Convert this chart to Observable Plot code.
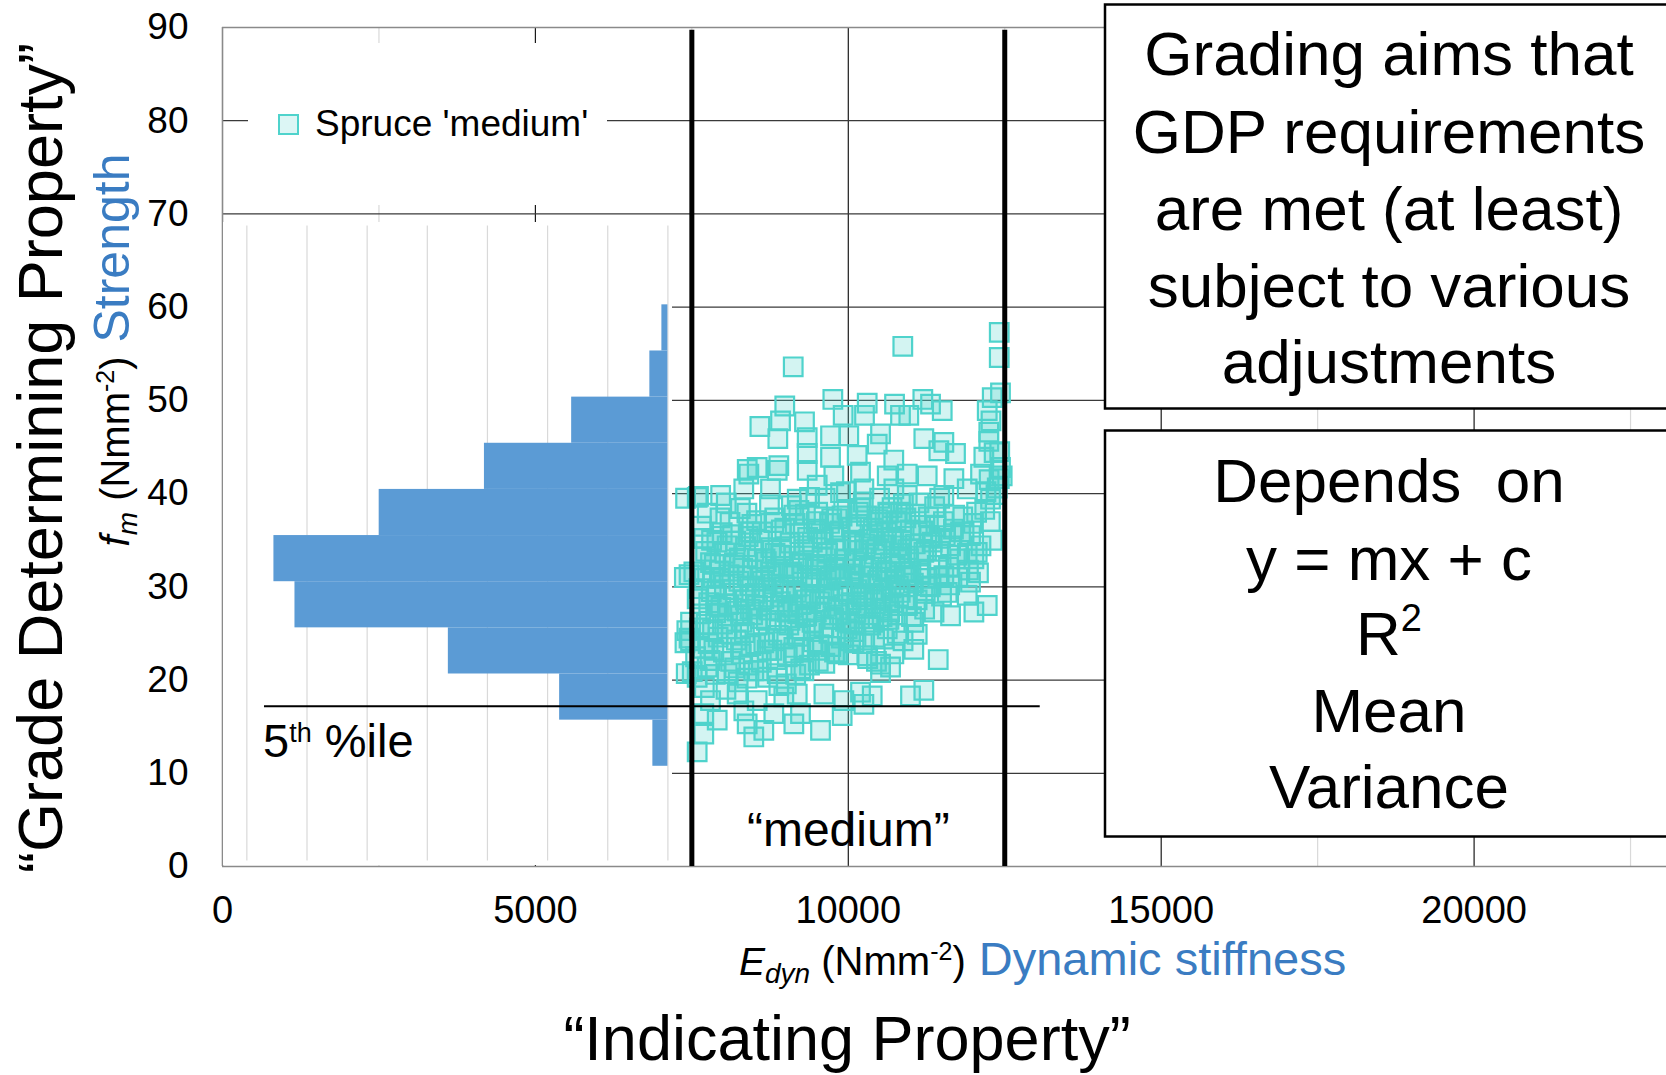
<!DOCTYPE html>
<html><head><meta charset="utf-8">
<script src="https://cdn.jsdelivr.net/npm/d3@7"></script>
<script src="https://cdn.jsdelivr.net/npm/@observablehq/plot@0.6"></script>
<style>
html,body{margin:0;padding:0;background:#fff;}
#wrap{position:relative;width:1666px;height:1075px;overflow:hidden;}
#wrap svg{position:absolute;}
</style></head><body><div id="wrap"></div>
<script>
// ---------------- data ----------------
const yTicks = [0, 10, 20, 30, 40, 50, 60, 70, 80, 90];
const xTicks = [0, 5000, 10000, 15000, 20000];
const xMinorGrid = [2500, 7500, 12500, 17500, 22500];
const yGrid = [10, 20, 30, 40, 50, 60, 70, 80];
const gradeLimits = [7500, 12500];          // "medium" grade boundaries (Edyn)
const gradeLimitTop = 89.7;
const gradeLabel = [{text: "“medium”", x: 10000, y: 3.9}];
const fifthPercentile = [{value: 17.2, from: 671, to: 13067}];

// histogram of fm (bins) – counts
const binLow  = [10.75, 15.7, 20.65, 25.6, 30.55, 35.5, 40.45, 45.4, 50.35, 55.3];
const binHigh = [15.7, 20.65, 25.6, 30.55, 35.5, 40.45, 45.4, 50.35, 55.3, 60.25];
const binCount = [5, 36, 73, 124, 131, 96, 61, 32, 6, 2];
const histGrid = [0, 20, 40, 60, 80, 100, 120, 140];

// Spruce 'medium' : [Edyn, fm]
const spruceMedium = [
[9120,53.6],[10871,55.8],[12412,57.3],[12412,54.6],[12432,50.8],[12300,50.3],[9753,50.1],[8985,49.4],[10302,49.7],[10739,49.6],
[11191,50.1],[11314,49.6],[11501,48.9],[8587,47.2],[8917,47.8],[9300,47.7],[8874,45.9],[9918,48.4],[10259,48.4],[10515,46.4],
[10834,48.4],[10967,48.4],[11207,45.9],[11527,45.5],[11713,44.3],[12220,48.9],[12245,46.6],[12245,45.6],[10008,46.2],[9716,46.2],
[9343,46.0],[10462,45.3],[11447,44.6],[12166,43.9],[12432,42.8],[9343,44.3],[9716,43.9],[10142,44.1],[10727,43.6],[8544,42.8],
[8890,43.0],[8385,42.6],[12280,47.8],[12330,44.4],[12360,39.9],[12250,41.5],[12413,41.6],
[8411,42.1],[8864,42.5],[9343,42.5],[9769,41.9],[10195,42.3],[10622,41.9],[10942,42.1],[11261,41.9],[11687,41.6],[12113,42.1],
[12459,41.9],[7586,39.6],[7960,39.8],[8330,40.5],[8757,40.5],[9184,39.4],[9503,40.9],[9876,40.1],[10249,40.5],[10728,40.5],
[10942,39.8],[11527,39.8],[11900,40.5],[12273,39.4],
[7690,35.2],[8064,34.4],[8437,35.9],[8810,36.9],[9130,37.7],[9503,36.2],[9823,37.3],[10195,38.4],[10515,36.9],[10835,38.0],
[11154,36.6],[11474,35.2],[11634,34.4],[11953,35.5],[12060,33.7],[11793,35.9],[11207,33.7],[10835,34.4],[10462,34.1],[10089,34.8],
[9663,33.7],[9290,34.4],[8917,33.4],[8544,33.0],[8171,32.3],[7798,32.6],[7532,31.6],[7958,30.9],[8384,31.2],[8757,31.6],
[9130,31.2],[9503,31.9],[9876,31.2],[10249,32.3],[10622,31.6],[10942,31.2],[11261,30.9],[11527,31.2],[11953,30.5],[11421,32.3],
[11740,33.4],[12007,33.0],
[7585,28.7],[7479,26.2],[7905,28.0],[8277,26.9],[8650,28.7],[9023,27.3],[9396,28.7],[9769,26.6],[10142,28.0],[10408,26.2],
[10728,28.0],[11047,26.2],[11261,30.1],[11581,29.4],[11900,29.1],[12220,28.0],[11634,26.9],[12007,27.3],[8064,25.5],[8544,25.9],
[9236,25.5],[9982,25.5],[10622,25.5],
[7479,24.2],[7852,23.2],[8277,23.5],[8704,23.2],[9130,23.5],[9503,23.2],[9823,22.8],[10036,24.2],[10302,22.6],[10515,21.7],
[10728,22.8],[11047,23.3],[11437,22.2],[11101,24.9],[10515,20.8],[7585,20.3],[7745,21.4],[8064,20.7],[8490,21.0],[8864,20.7],
[9290,21.0],[9610,18.5],[9184,18.5],[8970,18.2],[8544,17.8],[8224,18.5],[7798,17.8],[7691,16.4],[7905,15.7],[8331,16.7],
[8384,15.3],[8490,13.9],[8650,14.6],[8810,16.4],[9130,15.3],[9236,16.4],[9556,14.6],[9902,16.2],[9929,17.8],[10249,17.4],
[10382,18.3],[10994,18.3],[11207,18.9],[7691,14.2],[7585,12.3],[10195,18.7],[10675,21.4],[7506,20.9],[7455,31.3],[7455,24.5],
[7606,39.7],[7400,39.5],[7380,31.0],[7420,25.3],[7390,24.0],[7410,20.7],
[7650,36.5],[7720,33.8],[7810,29.5],[7880,27.2],[7950,37.4],[8020,30.2],[8090,28.1],[8150,35.6],[8210,24.3],[8260,33.1],
[8320,29.0],[8380,37.9],[8430,27.6],[8470,31.8],[8520,23.9],[8580,35.0],[8630,30.6],[8690,26.4],[8740,38.8],[8790,28.9],
[8830,33.6],[8880,24.8],[8930,36.1],[8980,30.0],[9030,27.9],[9070,34.7],[9120,22.9],[9170,29.4],[9210,38.2],[9260,32.5],
[9310,26.8],[9350,35.3],[9400,30.9],[9440,24.1],[9490,37.0],[9540,28.4],[9580,33.2],[9630,39.5],[9680,29.8],[9720,23.6],
[9770,35.9],[9810,31.4],[9860,27.0],[9900,37.6],[9950,32.9],[10000,29.2],[10050,36.4],[10090,25.2],[10140,33.9],[10190,30.4],
[10240,39.1],[10280,27.7],[10330,35.1],[10380,31.1],[10420,24.6],[10470,37.2],[10520,33.0],[10560,29.6],[10610,35.8],[10660,27.3],
[10700,38.5],[10750,32.2],[10800,30.1],[10850,36.9],[10900,28.8],[10950,34.0],[11000,31.7],[11080,37.8],[11150,33.3],[11230,29.3],
[11300,35.4],[11380,38.6],[11450,33.8],[11520,37.0],[11600,32.1],[11680,36.2],[11750,31.0],[11830,37.5],[11900,33.6],[12000,36.8],
[12080,31.5],[12180,38.3],[12300,35.0],[12380,40.6],[12420,44.5],[7560,22.5],[7620,25.6],[7700,19.2],[7760,23.9],[7840,31.0],
[7900,34.8],[7990,26.0],[8050,39.0],[8120,22.0],[8180,32.6],[8240,19.8],[8300,26.2],[8360,34.3],[8410,21.6],[8460,36.7],
[8550,28.0],[8610,21.9],[8670,33.0],[8720,24.5],[8770,31.2],[8850,22.2],[8910,27.4],[8960,32.2],[9010,19.6],[9050,25.9],
[9100,31.6],[9150,36.8],[9190,27.1],[9240,21.2],[9290,34.0],[9330,28.6],[9380,39.6],[9420,26.2],[9470,32.2],[9520,22.0],
[9560,35.7],[9610,25.7],[9650,30.7],[9700,36.8],[9750,26.5],[9790,31.9],[9840,22.9],[9880,34.4],[9930,28.1],[9970,40.2],
[10020,26.1],[10070,31.9],[10120,27.3],[10160,38.0],[10210,28.9],[10260,34.6],[10310,22.3],[10350,30.3],[10400,36.3],[10450,28.6],
[10500,39.5],[10540,26.8],[10590,31.6],[10640,37.9],[10680,29.9],[10730,34.9],[10780,25.0],[10830,33.2],[10880,38.9],[10920,31.2],
[7610,29.8],[7640,27.1],[7655,33.2],[7680,23.4],[7700,30.9],[7730,26.0],[7745,37.9],[7770,28.3],[7790,22.1],[7815,35.0],
[7830,25.4],[7860,32.4],[7875,20.6],[7895,29.1],[7920,24.6],[7940,31.7],[7965,27.8],[7985,35.8],[8005,23.0],[8030,33.6],
[8045,19.0],[8070,26.9],[8095,31.3],[8110,36.9],[8135,24.9],[8160,29.7],[8185,21.3],[8200,34.9],[8225,27.4],[8250,30.6],
[8275,38.4],[8290,22.8],[8315,32.0],[8340,25.1],[8355,28.6],[8380,20.2],[8400,35.4],[8425,30.1],[8445,23.7],[8470,27.0],
[8490,33.8],[8515,29.3],[8535,37.1],[8560,21.0],[8585,31.0],[8600,26.6],[8625,35.9],[8650,24.0],[8665,29.9],[8690,32.7],
[8710,20.3],[8735,27.5],[8760,34.2],[8780,23.2],[8805,30.3],[8825,37.4],[8845,26.1],[8870,31.9],[8890,19.4],[8915,28.4],
[8935,33.9],[8960,24.4],[8985,36.3],[9000,29.6],[9025,22.5],[9045,31.5],[9070,26.4],[9090,38.7],[9115,27.8],[9135,33.3],
[9160,20.6],[9180,30.0],[9200,24.7],[9225,35.7],[9245,28.1],[9270,31.2],[9290,23.3],[9315,37.8],[9335,26.9],[9360,32.8],
[9380,21.6],[9400,29.0],[9425,34.8],[9445,25.5],[9470,30.5],[9490,27.3],[9510,38.0],[9535,23.8],[9555,32.4],[9580,29.2],
[9600,35.1],[9625,21.8],[9645,27.9],[9670,33.6],[9690,25.0],[9715,31.0],[9735,37.3],[9755,28.8],[9780,23.0],[9800,34.1],
[9825,27.6],[9845,30.9],[9870,36.0],[9890,24.5],[9910,29.5],[9935,33.0],[9955,26.3],[9980,38.3],[10000,22.7],[10025,31.4],
[10045,28.3],[10070,35.0],[10090,24.0],[10110,32.6],[10135,29.7],[10155,36.7],[10180,26.6],[10200,31.2],[10225,23.9],[10245,29.0],
[10270,34.0],[10290,37.6],[10315,27.0],[10335,32.1],[10360,25.9],[10380,35.6],[10405,29.3],[10425,33.5],[10450,22.0],[10470,30.7],
[10495,36.0],[10515,27.7],[10540,31.8],[10560,24.4],[10585,34.5],[10605,29.0],[10630,38.0],[10650,26.5],[10675,32.6],[10695,35.3],
[10720,28.3],[10740,30.8],[10765,37.1],[10785,27.0],[10810,33.6],[10830,29.4],[10855,35.0],[10875,24.2],[10900,31.6],[10920,37.4],
[10945,28.0],[10965,33.0],[10990,36.1],[11010,26.8],[11040,30.4],[11070,34.6],[11100,28.6],[11130,39.0],[11160,31.5],[11190,36.0],
[11220,27.6],[11250,33.9],[11280,37.5],[11310,30.0],[11340,34.8],[11370,27.3],[11400,36.5],[11430,31.0],[11460,39.5],[11490,29.0],
[11550,35.5],[11620,30.2],[11700,37.7],[11780,33.0],[11850,35.9],[11920,31.8],[12050,38.0],[12120,34.4],[12200,40.2],[12270,37.0]
];

// ---------------- layout ----------------
const W = 1666, H = 1075;
const X0 = 222, Y0 = 866, YTOP = 27;
const pxPerE = 312.9 / 5000;
const pxPerF = (Y0 - YTOP) / 90;
const FONT = "'Liberation Sans', Arial, sans-serif";
const wrap = document.getElementById("wrap");

const turq = "#4fd3cc";
const histBlue = "#5b9bd5";

const mainScales = {
  x: {domain: [0, (W - X0) / pxPerE], label: null},
  y: {domain: [0, 90], label: null}
};

const mainPlot = Plot.plot({
  width: W, height: H,
  marginLeft: X0, marginRight: 0, marginTop: YTOP, marginBottom: H - Y0,
  ...mainScales,
  style: {fontFamily: FONT, background: "white", color: "black"},
  marks: [
    Plot.ruleX(xMinorGrid, {stroke: "#d9d9d9", strokeWidth: 1.2}),
    Plot.ruleX(xTicks.filter(d => d > 0), {stroke: "#1a1a1a", strokeWidth: 1.2}),
    Plot.ruleY(yGrid, {stroke: "#3a3a3a", strokeWidth: 1.2}),
    Plot.ruleY([0, 90], {stroke: "#8a8a8a", strokeWidth: 1.6}),
    Plot.ruleX([0], {stroke: "#8a8a8a", strokeWidth: 1.6}),
    Plot.dot(spruceMedium, {x: d => d[0], y: d => d[1], symbol: "square", r: 10.5,
      fill: turq, fillOpacity: 0.25, stroke: turq, strokeWidth: 2.2}),
    Plot.ruleX(gradeLimits, {y1: 0, y2: gradeLimitTop, stroke: "black", strokeWidth: 5}),
    Plot.text(gradeLabel, {x: "x", y: "y", text: "text", fontSize: 48, fill: "black"}),
    Plot.axisX({ticks: xTicks, tickSize: 0, tickPadding: 30, tickFormat: d3.format("d"), fontSize: 38, label: null}),
    Plot.axisY({ticks: yTicks, tickSize: 0, tickPadding: 34, fontSize: 37, label: null})
  ]
});
mainPlot.style.left = "0px"; mainPlot.style.top = "0px";
wrap.appendChild(mainPlot);

// histogram overlay (own count scale, shares fm mapping)
const hLeft = X0 + 1, hTop = 222, hWidth = 449, hHeight = 865 - hTop;
const countZero = 667.4 - hLeft;           // px where count = 0
const pxPerCount = 60.15 / 20;
const hist = binLow.map((lo, i) => ({lo, hi: binHigh[i], count: binCount[i]}));
const histPlot = Plot.plot({
  width: hWidth, height: hHeight,
  marginLeft: 0, marginRight: hWidth - countZero, marginTop: 0, marginBottom: 0,
  x: {domain: [0, countZero / pxPerCount], reverse: true, axis: null},
  y: {domain: [(Y0 - (hTop + hHeight)) / pxPerF, (Y0 - hTop) / pxPerF], axis: null},
  style: {background: "white", fontFamily: FONT},
  marks: [
    Plot.ruleX(histGrid, {y1: 0.6, y2: 68.7, stroke: "#d9d9d9", strokeWidth: 1.2}),
    Plot.rectX(hist, {x: "count", y1: "lo", y2: "hi", fill: histBlue})
  ]
});
histPlot.style.left = hLeft + "px"; histPlot.style.top = hTop + "px";
wrap.appendChild(histPlot);

// top layer: 5th percentile line
const topLayer = Plot.plot({
  width: W, height: H,
  marginLeft: X0, marginRight: 0, marginTop: YTOP, marginBottom: H - Y0,
  x: {...mainScales.x, axis: null},
  y: {...mainScales.y, axis: null},
  style: {background: "transparent"},
  marks: [
    Plot.ruleY(fifthPercentile, {y: "value", x1: "from", x2: "to", stroke: "black", strokeWidth: 2})
  ]
});
topLayer.style.left = "0px"; topLayer.style.top = "0px";
wrap.appendChild(topLayer);

// annotations
const blue = "#3a7cc2";
const ann = document.createElement("div");
ann.innerHTML = `
<svg width="${W}" height="${H}" style="left:0;top:0" font-family="${FONT}" fill="#000">
  <rect x="248" y="43" width="359" height="162" fill="#fff"/>
  <rect x="279" y="115" width="19" height="19" fill="${turq}" fill-opacity="0.2" stroke="${turq}" stroke-width="2"/>
  <text x="315" y="136" font-size="37">Spruce 'medium'</text>

  <text x="263" y="757" font-size="47">5<tspan font-size="27" dy="-15">th</tspan><tspan dy="15"> %ile</tspan></text>

  <text transform="translate(62,458) rotate(-90)" text-anchor="middle" font-size="63">“Grade Determining Property”</text>
  <text transform="translate(129,350) rotate(-90)" text-anchor="middle"><tspan font-size="40" font-style="italic">f</tspan><tspan font-size="28" font-style="italic" dy="8">m</tspan><tspan font-size="40" dy="-8"> (Nmm</tspan><tspan font-size="25" dy="-15">-2</tspan><tspan font-size="40" dy="15">)</tspan><tspan font-size="50" fill="${blue}"> Strength</tspan></text>

  <text x="739" y="975"><tspan font-size="39" font-style="italic">E</tspan><tspan font-size="28" font-style="italic" dy="8">dyn</tspan><tspan font-size="40" dy="-8"> (Nmm</tspan><tspan font-size="25" dy="-15">-2</tspan><tspan font-size="40" dy="15">)</tspan><tspan font-size="47" fill="${blue}"> Dynamic stiffness</tspan></text>
  <text x="847" y="1060" text-anchor="middle" font-size="63">“Indicating Property”</text>

  <rect x="1105" y="4.5" width="620" height="404" fill="#fff" stroke="#000" stroke-width="2.5"/>
  <g font-size="62" text-anchor="middle">
    <text x="1389" y="75">Grading aims that</text>
    <text x="1389" y="153">GDP requirements</text>
    <text x="1389" y="230">are met (at least)</text>
    <text x="1389" y="307">subject to various</text>
    <text x="1389" y="383">adjustments</text>
  </g>
  <rect x="1105" y="430.5" width="620" height="406" fill="#fff" stroke="#000" stroke-width="2.5"/>
  <g font-size="62" text-anchor="middle">
    <text x="1389" y="502">Depends&#160; on</text>
    <text x="1389" y="580">y = mx + c</text>
    <text x="1389" y="655">R<tspan font-size="38" dy="-24">2</tspan></text>
    <text x="1389" y="732">Mean</text>
    <text x="1389" y="808">Variance</text>
  </g>
</svg>`;
wrap.appendChild(ann.firstElementChild);
</script>
</body></html>
